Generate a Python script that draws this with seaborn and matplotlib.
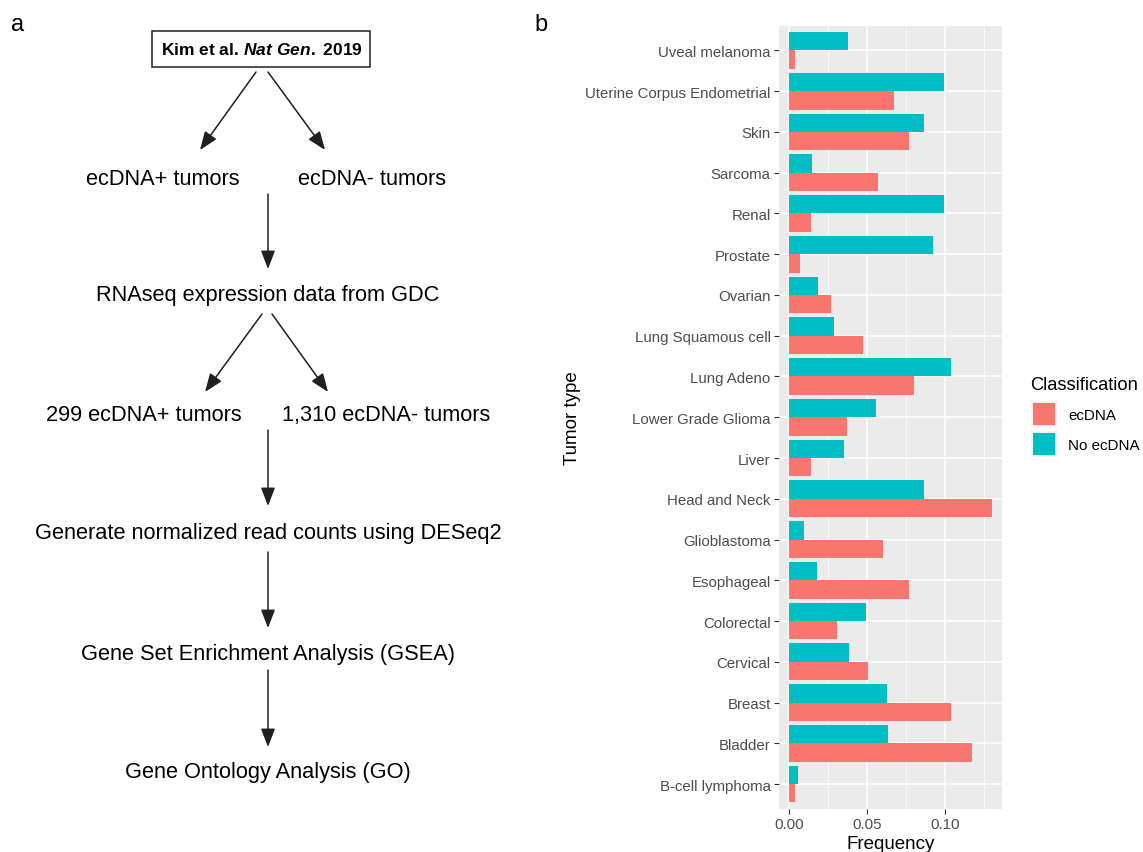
import numpy as np
import pandas as pd
import matplotlib
matplotlib.use("Agg")
import matplotlib.pyplot as plt
from matplotlib.patches import Rectangle, FancyArrowPatch
import seaborn as sns

# ---- data: frequency of each tumour type per classification ----
tumor_types = [
    "Uveal melanoma", "Uterine Corpus Endometrial", "Skin", "Sarcoma", "Renal",
    "Prostate", "Ovarian", "Lung Squamous cell", "Lung Adeno",
    "Lower Grade Glioma", "Liver", "Head and Neck", "Glioblastoma",
    "Esophageal", "Colorectal", "Cervical", "Breast", "Bladder",
    "B-cell lymphoma",
]
freq_ecdna = [
    0.0037, 0.0672, 0.0769, 0.0570, 0.0139,
    0.0069, 0.0268, 0.0474, 0.0802,
    0.0371, 0.0139, 0.1304, 0.0602,
    0.0769, 0.0307, 0.0505, 0.1037, 0.1171,
    0.0037,
]
freq_no_ecdna = [
    0.0377, 0.0992, 0.0866, 0.0145, 0.0992,
    0.0924, 0.0183, 0.0286, 0.1038,
    0.0557, 0.0351, 0.0866, 0.0092,
    0.0179, 0.0492, 0.0382, 0.0626, 0.0634,
    0.0053,
]
classes = ["ecDNA", "No ecDNA"]
palette = {"ecDNA": "#F8766D", "No ecDNA": "#00BFC4"}
x_ticks = [0.00, 0.05, 0.10]
x_tick_labels = ["0.00", "0.05", "0.10"]

df = pd.DataFrame({
    "Tumor type": tumor_types * 2,
    "Frequency": freq_ecdna + freq_no_ecdna,
    "Classification": ["ecDNA"] * len(tumor_types) + ["No ecDNA"] * len(tumor_types),
})

# ---- flowchart steps ----
source_label = "Kim et al. $\\it{Nat\\ Gen.}$ 2019"
split1 = ["ecDNA+ tumors", "ecDNA- tumors"]
step_rnaseq = "RNAseq expression data from GDC"
split2 = ["299 ecDNA+ tumors", "1,310 ecDNA- tumors"]
steps_after = [
    "Generate normalized read counts using DESeq2",
    "Gene Set Enrichment Analysis (GSEA)",
    "Gene Ontology Analysis (GO)",
]

sns.set_theme(style="darkgrid")
plt.rcParams["font.family"] = ["Liberation Sans", "DejaVu Sans"]
plt.rcParams["mathtext.fontset"] = "custom"
plt.rcParams["mathtext.it"] = "Liberation Sans:italic:bold"
plt.rcParams["mathtext.rm"] = "Liberation Sans:bold"

W, H = 1143, 853
fig = plt.figure(figsize=(W / 100, H / 100), dpi=100)


def fx(px):
    return px / W


def fy(py):
    return 1 - py / H


# ---- panel b: grouped horizontal bars ----
ax = fig.add_axes([fx(779), fy(809.5), fx(1002) - fx(779), fy(27) - fy(809.5)])
sns.barplot(
    data=df, y="Tumor type", x="Frequency", hue="Classification",
    order=tumor_types, hue_order=["No ecDNA", "ecDNA"], palette=palette,
    orient="h", width=0.9, saturation=1, errorbar=None, ax=ax, legend=False,
    linewidth=0,
)
ax.set_facecolor("#EBEBEB")
ax.set_xlim(-0.0067, 0.1366)
ax.set_ylim(len(tumor_types) - 1 + 0.6, -0.6)
ax.set_xticks(x_ticks)
ax.set_xticklabels(x_tick_labels)
ax.set_xticks([0.025, 0.075, 0.125], minor=True)
ax.grid(True, which="major", color="white", linewidth=1.1)
ax.grid(True, which="minor", axis="x", color="white", linewidth=0.55)
ax.set_axisbelow(True)
for s in ax.spines.values():
    s.set_visible(False)
ax.tick_params(axis="both", which="major", length=3.5, width=0.8, color="#333333",
               labelcolor="#4D4D4D", labelsize=10.8, pad=2.5, bottom=True, left=True)
ax.tick_params(axis="both", which="minor", length=0)
ax.set_xlabel("Frequency", fontsize=13.5, color="black", labelpad=3)
ax.set_ylabel("Tumor type", fontsize=13.5, color="black", labelpad=3)

# legend
fig.text(fx(1030), fy(386), "Classification", fontsize=13.2, va="center", ha="left",
         color="black")
for i, c in enumerate(classes):
    y0 = 402 + i * 30
    fig.patches.append(Rectangle((fx(1031), fy(y0 + 26)), fx(26), fy(0) - fy(26),
                                 transform=fig.transFigure, facecolor="#F2F2F2",
                                 edgecolor="none"))
    fig.patches.append(Rectangle((fx(1033), fy(y0 + 24)), fx(22), fy(0) - fy(22),
                                 transform=fig.transFigure, facecolor=palette[c],
                                 edgecolor="none"))
    fig.text(fx(1068), fy(y0 + 14), c, fontsize=10.9, va="center", ha="left",
             color="black")

# ---- panel labels ----
fig.text(fx(18), fy(25), "a", fontsize=17, va="center", ha="center", color="black")
fig.text(fx(541), fy(25), "b", fontsize=17, va="center", ha="center", color="black")

# ---- panel a: flowchart ----
fs = 15.7


def label(x, y, s, **kw):
    fig.text(fx(x), fy(y + 2.5), s, fontsize=fs, ha="center", va="center",
             color="black", **kw)


def arrow(x0, y0, x1, y1):
    fig.patches.append(FancyArrowPatch(
        (fx(x0), fy(y0)), (fx(x1), fy(y1)), transform=fig.transFigure,
        arrowstyle="-|>,head_length=7,head_width=2.7", mutation_scale=1.6,
        color="#231F20", linewidth=1.1, shrinkA=0, shrinkB=0))


fig.patches.append(Rectangle((fx(152), fy(68)), fx(370) - fx(152), fy(32) - fy(68),
                             transform=fig.transFigure, facecolor="white",
                             edgecolor="#231F20", linewidth=1.1))
fig.text(fx(262), fy(50), source_label, fontsize=12.5, ha="center", va="center",
         fontweight="bold", color="black")

arrow(256, 73, 200, 151)
arrow(268, 73, 325, 151)
label(163, 177, split1[0])
label(372, 177, split1[1])
arrow(268, 195, 268, 270)
label(268, 293, step_rnaseq)
arrow(262, 315, 205, 393)
arrow(272, 315, 328, 393)
label(144, 413, split2[0])
label(386, 413, split2[1])
arrow(268, 431, 268, 507)
label(268, 531, steps_after[0])
arrow(268, 553, 268, 629)
label(268, 652, steps_after[1])
arrow(268, 671, 268, 748)
label(268, 770, steps_after[2])

fig.savefig("out.png", dpi=100)
